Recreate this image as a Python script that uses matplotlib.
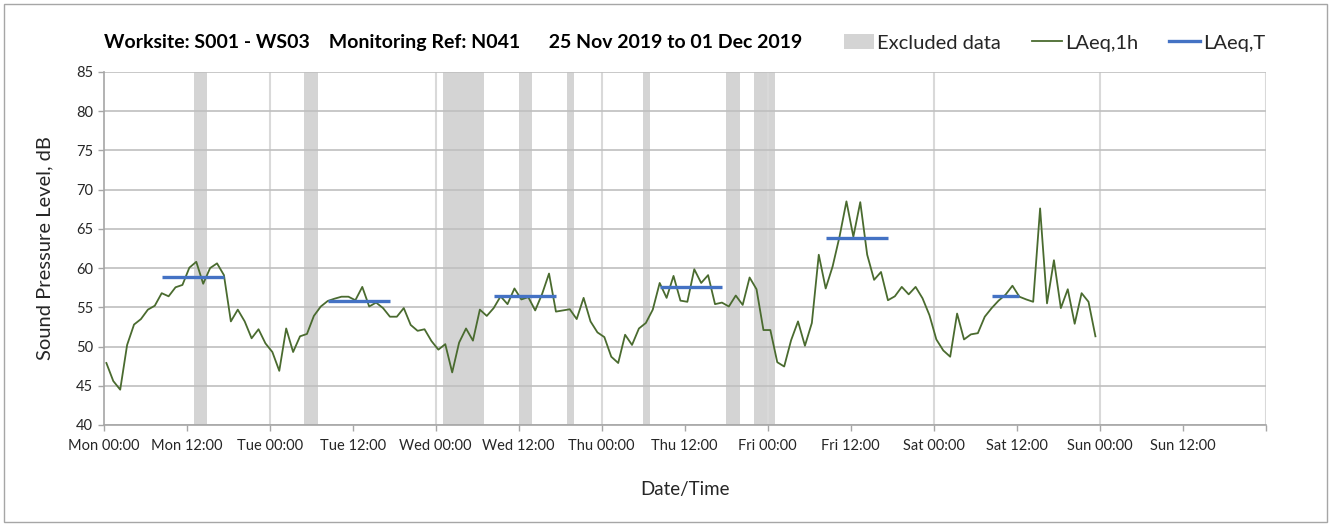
import numpy as np
import matplotlib
matplotlib.use("Agg")
import matplotlib.pyplot as plt
from matplotlib.patches import Patch, Rectangle
from matplotlib.lines import Line2D

plt.rcParams['font.family'] = ['Lato', 'DejaVu Sans']

# =========================
# DATA
# =========================
# hourly LAeq,1h values, Mon 00:00 onwards
laeq_1h = [
    47.9, 45.6, 44.5, 50.2, 52.8, 53.5, 54.7, 55.2, 56.8, 56.4, 57.55, 57.85,
    60.05, 60.8, 58.0, 60.0, 60.6, 59.1, 53.2, 54.7, 53.2, 51.05, 52.2, 50.4,
    49.3, 46.9, 52.3, 49.3, 51.3, 51.6, 53.9, 55.1, 55.8, 56.1, 56.35, 56.35,
    55.9, 57.6, 55.1, 55.6, 54.9, 53.8, 53.8, 54.9, 52.75, 52.0, 52.2, 50.7,
    49.6, 50.3, 46.7, 50.5, 52.3, 50.75, 54.7, 53.9, 54.9, 56.4, 55.4, 57.4,
    56.0, 56.3, 54.6, 56.7, 59.3, 54.45, 54.6, 54.75, 53.5, 56.2, 53.2, 51.8,
    51.2, 48.7, 47.9, 51.5, 50.2, 52.3, 53.0, 54.7, 58.1, 56.2, 59.0, 55.85,
    55.7, 59.85, 58.1, 59.1, 55.4, 55.6, 55.1, 56.5, 55.3, 58.8, 57.3, 52.1,
    52.1, 48.0, 47.45, 50.8, 53.2, 50.1, 53.0, 61.7, 57.4, 60.2, 64.0, 68.5,
    64.0, 68.4, 61.7, 58.5, 59.5, 55.9, 56.4, 57.6, 56.65, 57.6, 56.15, 54.0,
    50.9, 49.5, 48.7, 54.2, 50.9, 51.55, 51.7, 53.8, 54.9, 55.85, 56.6, 57.75,
    56.35, 56.0, 55.7, 67.6, 55.5, 61.0, 54.9, 57.3, 52.9, 56.8, 55.7, 51.3,
]
hours = np.arange(len(laeq_1h)) + 0.4

# LAeq,T periods (index of first / last hour) and levels
period_first = [8, 32, 56, 80, 104, 128]
period_last = [17, 41, 65, 89, 113, 132]
period_level = [58.8, 55.8, 56.5, 57.6, 63.8, 56.4]

# excluded data windows, hours from Mon 00:00
excl_start = [13, 29, 49, 60, 67, 78, 90, 94]
excl_end = [15, 31, 55, 62, 68, 79, 92, 97]

tick_labels = ["Mon 00:00", "Mon 12:00", "Tue 00:00", "Tue 12:00", "Wed 00:00",
               "Wed 12:00", "Thu 00:00", "Thu 12:00", "Fri 00:00", "Fri 12:00",
               "Sat 00:00", "Sat 12:00", "Sun 00:00", "Sun 12:00", ""]

GREEN = "#4a6b2f"
BLUE = "#4472c4"
BAND = "#d4d4d4"
TXT = "#262626"

# =========================
# PLOT
# =========================
fig = plt.figure(figsize=(13.35, 5.24), dpi=100)
fig.patches.append(Rectangle((0.003, 0.004), 0.991, 0.988, transform=fig.transFigure,
                             fill=False, edgecolor="#a6a6a6", linewidth=1.0))

ax = fig.add_axes([0.0776, 0.189, 0.8704, 0.6737])
ax.set_axisbelow(True)

for s, e in zip(excl_start, excl_end):
    ax.axvspan(s, e, color=BAND, linewidth=0, zorder=0.2)

for d in range(24, 169, 24):
    ax.axvline(d, color="#d9d9d9", linewidth=1.5, zorder=0.4)

ax.plot(hours, laeq_1h, color=GREEN, linewidth=1.3, zorder=3)

for a, b, v in zip(period_first, period_last, period_level):
    ax.plot([hours[a], hours[b]], [v, v], color=BLUE, linewidth=2.4,
            solid_capstyle="butt", zorder=4)

ax.set_xlim(0, 168)
ax.set_ylim(40, 85)
ax.set_xticks(np.arange(0, 169, 12))
ax.set_xticklabels(tick_labels)
ax.set_yticks(np.arange(40, 86, 5))
ax.yaxis.grid(True, color="#bfbfbf", linewidth=1.2)

for side in ["top", "right"]:
    ax.spines[side].set_visible(False)
for side in ["left", "bottom"]:
    ax.spines[side].set_color("#a6a6a6")
    ax.spines[side].set_linewidth(1.2)

ax.tick_params(axis="both", colors="#a6a6a6", labelcolor=TXT, labelsize=10.5,
               length=4, width=1)
ax.tick_params(axis="x", pad=6)

ax.set_ylabel("Sound Pressure Level, dB", fontsize=14.5, color=TXT, labelpad=16)
ax.set_xlabel("Date/Time", fontsize=13.5, color=TXT, labelpad=20)

fig.text(0.0776, 0.918,
         "Worksite: S001 - WS03    Monitoring Ref: N041      25 Nov 2019 to 01 Dec 2019",
         fontsize=14, fontweight="bold", color="black", va="center", ha="left")

handles = [Patch(facecolor=BAND, edgecolor="none"),
           Line2D([], [], color=GREEN, linewidth=1.3),
           Line2D([], [], color=BLUE, linewidth=2.4)]
fig.legend(handles, ["Excluded data", "LAeq,1h", "LAeq,T"], loc="center right",
           bbox_to_anchor=(0.961, 0.918), ncol=3, frameon=False, fontsize=14.5,
           handlelength=1.5, handletextpad=0.15, columnspacing=1.55,
           labelcolor=TXT)

fig.savefig("out.png", dpi=100)
